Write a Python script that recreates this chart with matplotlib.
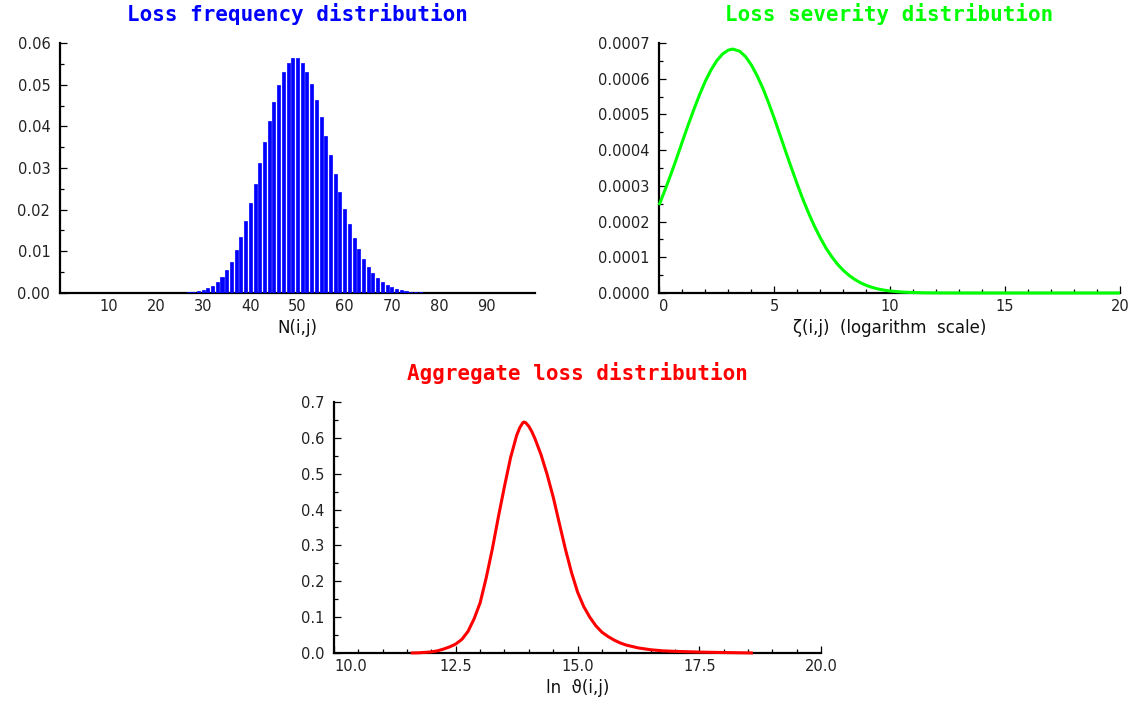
import numpy as np
import matplotlib
matplotlib.use("Agg")
import matplotlib.pyplot as plt
from matplotlib.ticker import FixedLocator, MultipleLocator, FuncFormatter, FormatStrFormatter

# ---- loss frequency: probability of N(i,j) = k events ----
counts = list(range(0, 101))
freq = ([0.0] * 25 +
        [0.00004, 0.00007, 0.00013, 0.00024, 0.00041, 0.00068, 0.00109, 0.00171,
         0.00259, 0.00380, 0.00543, 0.00755, 0.01020, 0.01342, 0.01720, 0.02150,
         0.02622, 0.03122, 0.03630, 0.04125, 0.04583, 0.04982, 0.05300, 0.05520,
         0.05633, 0.05633, 0.05523, 0.05310, 0.05010, 0.04639, 0.04217, 0.03765,
         0.03303, 0.02847, 0.02413, 0.02011, 0.01648, 0.01329, 0.01055, 0.00824,
         0.00634, 0.00480, 0.00358, 0.00263, 0.00191, 0.00136, 0.00096, 0.00067,
         0.00046, 0.00031, 0.00021, 0.00014, 0.00009, 0.00006, 0.00004, 0.00002] +
        [0.0] * 20)
freq_ticks = [10, 20, 30, 40, 50, 60, 70, 80, 90]

# ---- loss severity density on the log scale ----
sev_x = [0.0, 0.25, 0.5, 0.75, 1.0, 1.25, 1.5, 1.75, 2.0, 2.25, 2.5, 2.75,
         3.0, 3.2, 3.5, 3.75, 4.0, 4.25, 4.5, 4.75, 5.0, 5.25, 5.5, 5.75,
         6.0, 6.25, 6.5, 6.75, 7.0, 7.25, 7.5, 7.75, 8.0, 8.25, 8.5, 8.75,
         9.0, 9.25, 9.5, 9.75, 10.0, 10.5, 11.0, 11.5, 12.0, 13.0, 14.0, 20.0]
sev_y = [2.46e-4, 2.87e-4, 3.30e-4, 3.75e-4, 4.22e-4, 4.68e-4, 5.12e-4, 5.54e-4,
         5.92e-4, 6.24e-4, 6.50e-4, 6.69e-4, 6.80e-4, 6.83e-4, 6.77e-4, 6.62e-4,
         6.39e-4, 6.09e-4, 5.74e-4, 5.33e-4, 4.89e-4, 4.42e-4, 3.95e-4, 3.49e-4,
         3.04e-4, 2.61e-4, 2.22e-4, 1.86e-4, 1.54e-4, 1.25e-4, 1.01e-4, 0.80e-4,
         0.63e-4, 0.49e-4, 0.375e-4, 0.283e-4, 0.211e-4, 0.156e-4, 0.113e-4,
         0.081e-4, 0.058e-4, 0.028e-4, 0.013e-4, 0.0055e-4, 0.0023e-4, 0.0003e-4,
         0.0, 0.0]

# ---- aggregate loss density of ln theta(i,j) ----
agg_x = [11.575, 11.75, 12.0, 12.125, 12.25, 12.375, 12.5, 12.625, 12.75, 12.875,
         13.0, 13.125, 13.25, 13.375, 13.5, 13.625, 13.75, 13.8125, 13.875, 13.9,
         13.9375, 14.0, 14.0625, 14.125, 14.25, 14.375, 14.5, 14.625, 14.75,
         14.875, 15.0, 15.125, 15.25, 15.375, 15.5, 15.625, 15.75, 15.875, 16.0,
         16.25, 16.5, 16.75, 17.0, 17.5, 18.0, 18.3, 18.6]
agg_y = [0.0, 0.0005, 0.003, 0.006, 0.011, 0.017, 0.025, 0.038, 0.060, 0.095,
         0.140, 0.21, 0.29, 0.38, 0.465, 0.545, 0.607, 0.628, 0.642, 0.644,
         0.642, 0.632, 0.617, 0.598, 0.553, 0.498, 0.435, 0.362, 0.29,
         0.225, 0.170, 0.130, 0.100, 0.076, 0.058, 0.046, 0.036, 0.028, 0.022,
         0.014, 0.009, 0.006, 0.0045, 0.0025, 0.0012, 0.0006, 0.0]

TITLE_FONT = dict(family="DejaVu Sans Mono", weight="bold", size=15)
LABEL_FONT = dict(family="DejaVu Sans", size=12, color="#111111")
TICK_SIZE = 10.5
X_PAD = 4

fig = plt.figure(figsize=(11.32, 7.05), dpi=100)
ax1 = fig.add_axes([0.0530, 0.5844, 0.4196, 0.3546])
ax2 = fig.add_axes([0.5822, 0.5844, 0.4072, 0.3546])
ax3 = fig.add_axes([0.2951, 0.0738, 0.4302, 0.3560])


def style(ax):
    for side in ("top", "right"):
        ax.spines[side].set_visible(False)
    for side in ("left", "bottom"):
        ax.spines[side].set_linewidth(1.6)
        ax.spines[side].set_color("black")
    ax.tick_params(which="both", direction="in", color="black", width=0.9,
                   labelsize=TICK_SIZE, labelcolor="#222222")
    ax.tick_params(which="major", length=5)
    ax.tick_params(which="minor", length=3)
    ax.tick_params(axis="y", which="major", pad=7)
    ax.tick_params(axis="x", which="major", pad=X_PAD)


def origin_label(ax, x0, fmt):
    """Blank the tick label at the origin and set it flush right of the y axis."""
    base = FormatStrFormatter(fmt)
    ax.xaxis.set_major_formatter(
        FuncFormatter(lambda v, p: "" if abs(v - x0) < 1e-9 else base(v, p)))
    ax.annotate(fmt % x0, xy=(x0, 0), xycoords=("data", "axes fraction"),
                xytext=(0, -X_PAD), textcoords="offset points", ha="left", va="top",
                fontsize=TICK_SIZE, color="#222222", annotation_clip=False)


# Loss frequency
style(ax1)
ax1.bar(counts, freq, width=0.65, color="#0000ff", edgecolor="#0000ff",
        linewidth=0.5, zorder=3)
ax1.set_xlim(-0.35, 100.35)
ax1.set_ylim(0, 0.06)
ax1.xaxis.set_major_locator(FixedLocator(freq_ticks))
ax1.tick_params(axis="x", which="both", length=0)
ax1.yaxis.set_major_locator(MultipleLocator(0.01))
ax1.yaxis.set_minor_locator(MultipleLocator(0.005))
ax1.yaxis.set_major_formatter(FormatStrFormatter("%.2f"))
ax1.set_title("Loss frequency distribution", color="#0000ff", pad=15.5, **TITLE_FONT)
ax1.set_xlabel("N(i,j)", labelpad=4, **LABEL_FONT)

# Loss severity
style(ax2)
ax2.plot(sev_x, sev_y, color="#00ff00", linewidth=2.2, solid_capstyle="butt",
         clip_on=False, zorder=3)
ax2.set_xlim(0, 20)
ax2.set_ylim(0, 0.0007)
ax2.xaxis.set_major_locator(MultipleLocator(5))
ax2.xaxis.set_minor_locator(MultipleLocator(1))
ax2.yaxis.set_major_locator(MultipleLocator(0.0001))
ax2.yaxis.set_minor_locator(MultipleLocator(0.00005))
ax2.yaxis.set_major_formatter(FormatStrFormatter("%.4f"))
origin_label(ax2, 0, "%d")
ax2.set_title("Loss severity distribution", color="#00ff00", pad=15.5, **TITLE_FONT)
ax2.set_xlabel("ζ(i,j)  (logarithm  scale)", labelpad=4, **LABEL_FONT)

# Aggregate loss
style(ax3)
ax3.plot(agg_x, agg_y, color="#ff0000", linewidth=2.2, solid_capstyle="butt",
         clip_on=False, zorder=3)
ax3.set_xlim(10, 20)
ax3.set_ylim(0, 0.7)
ax3.xaxis.set_major_locator(MultipleLocator(2.5))
ax3.xaxis.set_minor_locator(MultipleLocator(0.5))
ax3.yaxis.set_major_locator(MultipleLocator(0.1))
ax3.yaxis.set_minor_locator(MultipleLocator(0.05))
ax3.yaxis.set_major_formatter(FormatStrFormatter("%.1f"))
origin_label(ax3, 10.0, "%.1f")
ax3.set_title("Aggregate loss distribution", color="#ff0000", pad=15.5, **TITLE_FONT)
ax3.set_xlabel("ln  ϑ(i,j)", labelpad=4, **LABEL_FONT)

fig.savefig("out.png", dpi=100)
